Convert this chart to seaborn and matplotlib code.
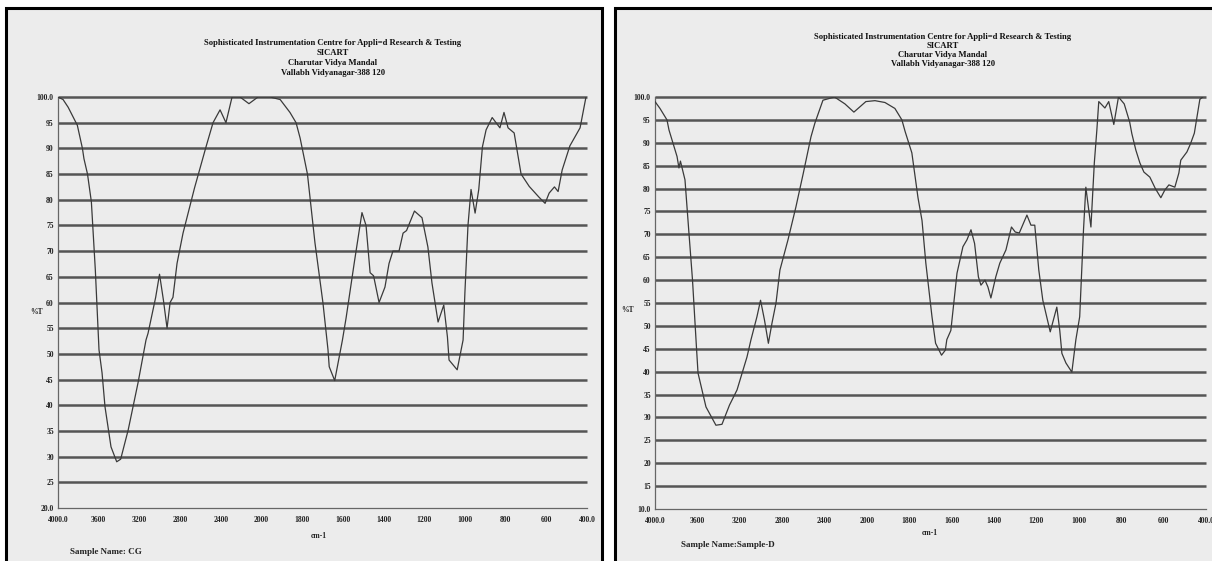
import numpy as np
import matplotlib
matplotlib.use("Agg")
import matplotlib.pyplot as plt
from matplotlib.patches import Rectangle
import seaborn as sns

# ---- data ----
cg_wavenumber = [4000, 3950, 3900, 3810, 3760, 3745, 3710, 3672, 3633, 3597, 3567, 3538,
                 3479, 3423, 3384, 3310, 3213, 3135, 3115, 3040, 3002, 2964, 2928, 2898,
                 2870, 2830, 2771, 2658, 2545, 2476, 2407, 2349, 2289, 2211, 2123, 2034,
                 1958, 1908, 1860, 1830, 1810, 1774, 1737, 1698, 1673, 1667, 1640, 1602,
                 1584, 1544, 1506, 1486, 1466, 1449, 1422, 1393, 1373, 1354, 1324, 1304,
                 1287, 1248, 1211, 1182, 1162, 1132, 1104, 1086, 1078, 1038, 1009, 1000,
                 985, 970, 950, 932, 914, 896, 866, 828, 808, 788, 758, 724, 684, 636,
                 606, 586, 560, 542, 522, 484, 434, 405]
cg_transmittance = [100, 99.5, 98, 94.5, 90, 88, 85, 79.6, 66.3, 50.8, 46.3, 39.7,
                    31.9, 29.0, 29.5, 35.2, 44.4, 52.7, 54, 61, 65.5, 60.5, 55, 60,
                    61, 67.6, 73.5, 82.3, 90.3, 95, 97.5, 95, 100, 100, 98.7, 100,
                    100, 99.5, 97, 95, 92, 85, 71.6, 60, 50.8, 47.5, 44.8, 52.7,
                    57, 67.7, 77.5, 75, 65.8, 65.2, 60, 63, 67.6, 70, 70, 73.5,
                    74, 77.8, 76.5, 70.8, 63.8, 56.2, 59.5, 53.3, 48.8, 46.9, 52.7, 62,
                    75, 82, 77.4, 82, 90.3, 93.6, 96, 94, 97, 94, 93, 85, 82.6, 80.5,
                    79.3, 81.3, 82.5, 81.6, 85.8, 90.5, 94, 100]

d_wavenumber = [4000, 3953, 3887, 3868, 3792, 3774, 3760, 3717, 3682, 3646, 3609, 3594,
                3519, 3425, 3368, 3297, 3226, 3132, 3094, 3038, 3004, 2967, 2930, 2896,
                2858, 2821, 2745, 2670, 2600, 2528, 2491, 2415, 2306, 2208, 2123, 2010,
                1962, 1915, 1868, 1835, 1820, 1788, 1759, 1740, 1722, 1693, 1676, 1648,
                1630, 1623, 1604, 1575, 1547, 1528, 1509, 1492, 1474, 1462, 1443, 1429,
                1415, 1392, 1373, 1344, 1318, 1300, 1281, 1245, 1226, 1208, 1189, 1170,
                1135, 1104, 1090, 1080, 1061, 1033, 1014, 996, 978, 967, 943, 927, 915,
                906, 877, 859, 835, 813, 786, 760, 750, 731, 712, 693, 665, 639, 613,
                594, 575, 547, 528, 519, 490, 473, 455, 429, 415]
d_transmittance = [99, 97.5, 95, 92.8, 87, 84.5, 86, 81.9, 71, 60, 45.4, 39.7,
                   32.3, 28.3, 28.5, 32.7, 36, 43.2, 47, 52, 55.6, 51.3, 46.2, 50.6,
                   55, 62.2, 68.8, 76, 83.4, 91.3, 94.3, 99.3, 100, 98.5, 96.7, 99,
                   99.2, 98.8, 97.5, 95, 92.5, 87.8, 78, 73, 63.7, 52, 46.2, 43.6,
                   44.7, 47, 49, 61.5, 67.3, 68.8, 71, 68, 60.7, 58.9, 60, 58.5,
                   56.1, 60.7, 63.7, 66.6, 71.6, 70.5, 70.3, 74.2, 72, 72, 62.2, 55.6,
                   48.7, 54.1, 49, 44, 41.9, 39.9, 47, 52, 71, 80.3, 71.6, 85.6, 92.8,
                   99, 97.6, 99, 94, 100, 98.5, 94.5, 92, 88.4, 85.6, 83.6, 82.5, 80, 78,
                   79.7, 80.8, 80.3, 83.4, 86.2, 88, 89.8, 92.1, 99.5, 100]

x_ticks = [4000, 3600, 3200, 2800, 2400, 2000, 1800, 1600, 1400, 1200, 1000, 800, 600, 400]
x_tick_labels = ["4000.0", "3600", "3200", "2800", "2400", "2000", "1800", "1600",
                 "1400", "1200", "1000", "800", "600", "400.0"]
cg_y_ticks = list(range(20, 101, 5))
d_y_ticks = list(range(10, 101, 5))

header = ["Sophisticated Instrumentation Centre for Appli=d Research & Testing",
          "SICART", "Charutar Vidya Mandal", "Vallabh Vidyanagar-388 120"]

W, H = 1212, 561
PANEL_BG = "#ececec"
GRID = "#555555"
INK = "#222222"


def fwd(w):
    # instrument chart: 400 cm-1 per division above 2000, 200 below
    w = np.asarray(w, dtype=float)
    return np.where(w >= 2000, (w - 4000) / 400.0, -5 - (2000 - w) / 200.0)


def inv(p):
    p = np.asarray(p, dtype=float)
    return np.where(p >= -5, 4000 + 400 * p, 2000 + 200 * (p + 5))


def fx(px):
    return px / W


def fy(py):
    return 1 - py / H


sns.set_theme(style="white")
plt.rcParams["font.family"] = ["Liberation Serif", "DejaVu Serif"]

fig = plt.figure(figsize=(W / 100, H / 100), dpi=100)
fig.patch.set_facecolor("white")

# scanned page frames (behind the axes)
fig.patches.append(Rectangle((fx(6), fy(600)), fx(596), fy(8) - fy(600),
                             transform=fig.transFigure, facecolor=PANEL_BG,
                             edgecolor="black", lw=2.2, zorder=-5))
fig.patches.append(Rectangle((fx(615), fy(600)), fx(620), fy(8) - fy(600),
                             transform=fig.transFigure, facecolor=PANEL_BG,
                             edgecolor="black", lw=2.2, zorder=-5))


def panel(left, right, top, bottom, wn, tr, yticks, title_x, title_y, title_gap,
          sample, xlab_pos, ylab_pos):
    ax = fig.add_axes([fx(left), fy(bottom), fx(right - left), fy(top) - fy(bottom)])
    ax.set_facecolor("none")
    sns.lineplot(x=wn, y=tr, ax=ax, color="#3a3a3a", lw=0.9, sort=False, zorder=3)
    ax.set_xscale("function", functions=(fwd, inv))
    ax.set_xlim(4000, 400)
    ax.set_ylim(yticks[0], yticks[-1])
    ax.hlines(yticks[1:], 4000, 400, color=GRID, lw=1.8, zorder=2, clip_on=False)

    ax.set_xticks(x_ticks)
    ax.set_xticklabels(x_tick_labels)
    ax.set_yticks(yticks)
    ylabels = [str(v) for v in yticks]
    ylabels[0] = f"{yticks[0]:.1f}"
    ylabels[-1] = f"{yticks[-1]:.1f}"
    ax.set_yticklabels(ylabels)
    ax.tick_params(axis="x", direction="in", length=3, width=0.8, color="#666666",
                   labelsize=5.5, labelcolor=INK, pad=6)
    ax.tick_params(axis="y", direction="out", length=2, width=0.8, color="#666666",
                   labelsize=5.5, labelcolor=INK, pad=1)
    for lab in ax.get_xticklabels() + ax.get_yticklabels():
        lab.set_fontweight("bold")
    for s in ["top", "right"]:
        ax.spines[s].set_visible(False)
    for s in ["left", "bottom"]:
        ax.spines[s].set_color("#666666")
        ax.spines[s].set_linewidth(0.9)
    ax.set_xlabel("")
    ax.set_ylabel("")

    for i, line in enumerate(header):
        fig.text(fx(title_x), fy(title_y + i * title_gap), line, ha="center", va="center",
                 fontsize=6.2, color="#111111", fontweight="bold")
    fig.text(fx(xlab_pos[0]), fy(xlab_pos[1]), "cm-1", ha="center", va="center",
             fontsize=5.5, color=INK, fontweight="bold")
    fig.text(fx(ylab_pos[0]), fy(ylab_pos[1]), "%T", ha="center", va="center",
             fontsize=5.5, color=INK, fontweight="bold")
    fig.text(fx(sample[0]), fy(sample[1]), sample[2], ha="left", va="center",
             fontsize=6.5, color=INK, fontweight="bold")
    return ax


panel(58, 587, 97, 508, cg_wavenumber, cg_transmittance, cg_y_ticks,
      333, 43, 10, (70, 552, "Sample Name: CG"), (319, 536), (37, 312))
panel(655, 1206, 97, 509, d_wavenumber, d_transmittance, d_y_ticks,
      943, 37, 9, (681, 545, "Sample Name:Sample-D"), (930, 533), (628, 310))

fig.savefig("out.png", dpi=100, facecolor="white")
